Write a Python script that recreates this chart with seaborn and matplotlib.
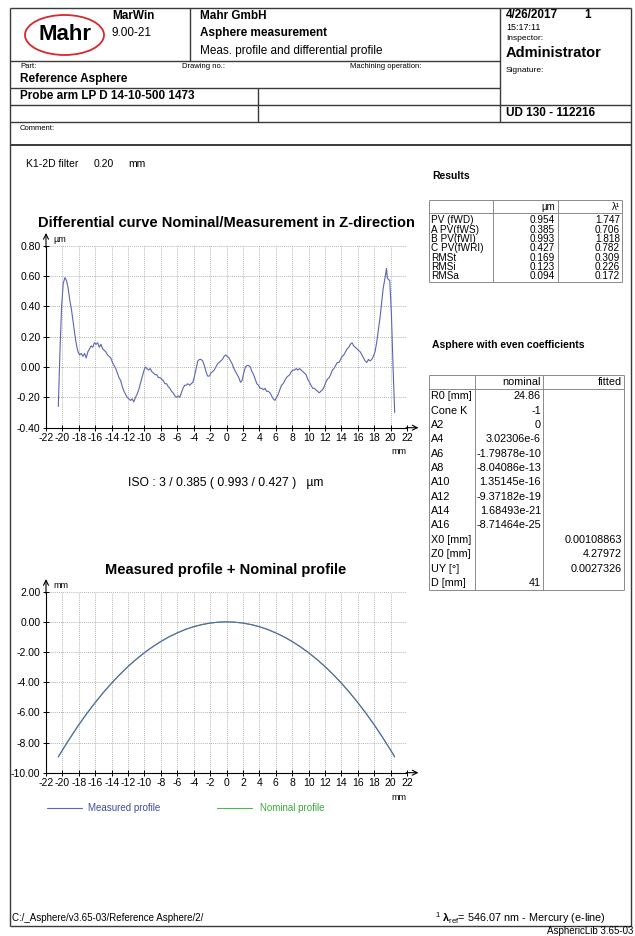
import matplotlib
matplotlib.use("Agg")
import matplotlib.pyplot as plt
import seaborn as sns
from matplotlib.patches import Ellipse

# ===============================
# DATA
# ===============================
DIFF_X = [-20.5, -20.3, -20.1, -19.9, -19.7, -19.5, -19.3, -19.1, -18.9, -18.7,
          -18.5, -18.3, -18.1, -17.9, -17.7, -17.5, -17.3, -17.1, -16.9, -16.7,
          -16.5, -16.3, -16.1, -15.9, -15.7, -15.5, -15.3, -15.1, -14.9, -14.7,
          -14.5, -14.3, -14.1, -13.9, -13.7, -13.5, -13.3, -13.1, -12.9, -12.7,
          -12.5, -12.3, -12.1, -11.9, -11.7, -11.5, -11.3, -11.1, -10.9, -10.7,
          -10.5, -10.3, -10.1, -9.9, -9.7, -9.5, -9.3, -9.1, -8.9, -8.7,
          -8.5, -8.3, -8.1, -7.9, -7.7, -7.5, -7.3, -7.1, -6.9, -6.7,
          -6.5, -6.3, -6.1, -5.9, -5.7, -5.5, -5.3, -5.1, -4.9, -4.7,
          -4.5, -4.3, -4.1, -3.9, -3.7, -3.5, -3.3, -3.1, -2.9, -2.7,
          -2.5, -2.3, -2.1, -1.9, -1.7, -1.5, -1.3, -1.1, -0.9, -0.7,
          -0.5, -0.3, -0.1, 0.1, 0.3, 0.5, 0.7, 0.9, 1.1, 1.3,
          1.5, 1.7, 1.9, 2.1, 2.3, 2.5, 2.7, 2.9, 3.1, 3.3,
          3.5, 3.7, 3.9, 4.1, 4.3, 4.5, 4.7, 4.9, 5.1, 5.3,
          5.5, 5.7, 5.9, 6.1, 6.3, 6.5, 6.7, 6.9, 7.1, 7.3,
          7.5, 7.7, 7.9, 8.1, 8.3, 8.5, 8.7, 8.9, 9.1, 9.3,
          9.5, 9.7, 9.9, 10.1, 10.3, 10.5, 10.7, 10.9, 11.1, 11.3,
          11.5, 11.7, 11.9, 12.1, 12.3, 12.5, 12.7, 12.9, 13.1, 13.3,
          13.5, 13.7, 13.9, 14.1, 14.3, 14.5, 14.7, 14.9, 15.1, 15.3,
          15.5, 15.7, 15.9, 16.1, 16.3, 16.5, 16.7, 16.9, 17.1, 17.3,
          17.5, 17.7, 17.9, 18.1, 18.3, 18.5, 18.7, 18.9, 19.1, 19.3,
          19.5, 19.6, 19.7, 19.9, 20.1, 20.3, 20.5]
DIFF_Y = [-0.26, 0.10, 0.40, 0.55, 0.59, 0.57, 0.52, 0.44, 0.38, 0.30,
          0.22, 0.15, 0.10, 0.08, 0.09, 0.07, 0.09, 0.06, 0.10, 0.12,
          0.14, 0.13, 0.16, 0.15, 0.16, 0.13, 0.15, 0.12, 0.11, 0.10,
          0.08, 0.07, 0.06, 0.03, 0.01, -0.01, -0.04, -0.07, -0.09, -0.13,
          -0.16, -0.18, -0.20, -0.21, -0.22, -0.21, -0.23, -0.20, -0.18, -0.15,
          -0.11, -0.07, -0.03, 0.00, -0.01, -0.02, -0.01, -0.03, -0.04, -0.05,
          -0.05, -0.07, -0.07, -0.08, -0.09, -0.11, -0.11, -0.13, -0.14, -0.16,
          -0.17, -0.19, -0.20, -0.19, -0.20, -0.17, -0.14, -0.12, -0.12, -0.11,
          -0.12, -0.11, -0.10, -0.06, -0.01, 0.04, 0.05, 0.05, 0.04, 0.01,
          -0.03, -0.06, -0.06, -0.04, -0.03, -0.02, 0.00, 0.02, 0.03, 0.04,
          0.05, 0.07, 0.08, 0.07, 0.06, 0.04, 0.02, -0.01, -0.03, -0.05,
          -0.07, -0.10, -0.09, -0.04, 0.00, 0.01, 0.01, 0.00, -0.03, -0.05,
          -0.08, -0.11, -0.12, -0.14, -0.14, -0.15, -0.14, -0.16, -0.16, -0.17,
          -0.19, -0.21, -0.22, -0.20, -0.18, -0.15, -0.12, -0.11, -0.09, -0.07,
          -0.06, -0.05, -0.03, -0.02, -0.02, -0.01, -0.02, -0.01, -0.02, -0.03,
          -0.04, -0.05, -0.08, -0.10, -0.12, -0.14, -0.14, -0.15, -0.16, -0.17,
          -0.16, -0.15, -0.13, -0.10, -0.08, -0.07, -0.05, -0.02, -0.01, 0.01,
          0.03, 0.03, 0.05, 0.07, 0.08, 0.10, 0.12, 0.13, 0.15, 0.16,
          0.14, 0.13, 0.12, 0.11, 0.10, 0.08, 0.06, 0.04, 0.03, 0.05,
          0.04, 0.05, 0.07, 0.10, 0.16, 0.24, 0.32, 0.42, 0.52, 0.58,
          0.65, 0.59, 0.58, 0.57, 0.35, 0.00, -0.30]

PROFILE_X = [-20.5, -20, -19, -18, -17, -16, -15, -14, -13, -12, -11, -10, -9, -8, -7, -6,
             -5, -4, -3, -2, -1, 0, 1, 2, 3, 4, 5, 6, 7, 8, 9, 10, 11, 12, 13, 14, 15,
             16, 17, 18, 19, 20, 20.5]
PROFILE_MEASURED = [-8.95, -8.50, -7.64, -6.82, -6.06, -5.35, -4.68, -4.06, -3.49, -2.96,
                    -2.48, -2.04, -1.65, -1.30, -0.99, -0.73, -0.50, -0.32, -0.18, -0.08,
                    -0.02, 0.00, -0.02, -0.08, -0.18, -0.32, -0.50, -0.73, -0.99, -1.30,
                    -1.65, -2.04, -2.48, -2.96, -3.49, -4.06, -4.68, -5.35, -6.06, -6.82,
                    -7.64, -8.50, -8.95]
PROFILE_NOMINAL = [-8.95, -8.50, -7.64, -6.82, -6.06, -5.35, -4.68, -4.06, -3.49, -2.96,
                   -2.48, -2.04, -1.65, -1.30, -0.99, -0.73, -0.50, -0.32, -0.18, -0.08,
                   -0.02, 0.00, -0.02, -0.08, -0.18, -0.32, -0.50, -0.73, -0.99, -1.30,
                   -1.65, -2.04, -2.48, -2.96, -3.49, -4.06, -4.68, -5.35, -6.06, -6.82,
                   -7.64, -8.50, -8.95]

X_TICKS = list(range(-22, 24, 2))
DIFF_Y_TICKS = [-0.40, -0.20, 0.00, 0.20, 0.40, 0.60, 0.80]
PROFILE_Y_TICKS = [-10.0, -8.0, -6.0, -4.0, -2.0, 0.0, 2.0]

RESULT_NAMES = ["PV (fWD)", "A PV(fWS)", "B PV(fWI)", "C PV(fWRI)", "RMSt", "RMSi", "RMSa"]
RESULT_UM = [0.954, 0.385, 0.993, 0.427, 0.169, 0.123, 0.094]
RESULT_LAMBDA = [1.747, 0.706, 1.818, 0.782, 0.309, 0.226, 0.172]

COEF_NAMES = ["R0 [mm]", "Cone K", "A2", "A4", "A6", "A8", "A10", "A12", "A14", "A16",
              "X0 [mm]", "Z0 [mm]", "UY [°]", "D [mm]"]
COEF_NOMINAL = ["24.86", "-1", "0", "3.02306e-6", "-1.79878e-10", "-8.04086e-13",
                "1.35145e-16", "-9.37182e-19", "1.68493e-21", "-8.71464e-25", "", "", "", "41"]
COEF_FITTED = ["", "", "", "", "", "", "", "", "", "", "0.00108863", "4.27972", "0.0027326", ""]

# ===============================
# STYLE
# ===============================
sns.set_theme(style="white")
plt.rcParams["font.family"] = ["Liberation Sans", "DejaVu Sans"]
plt.rcParams["mathtext.fontset"] = "custom"
plt.rcParams["mathtext.rm"] = "Liberation Sans"
plt.rcParams["mathtext.bf"] = "Liberation Sans:bold"

W, H = 635, 936
FRAME = "#3a3a3a"
TABLE = "#8a8a8a"
BLUE = "#5a66b4"
GREEN = "#4cb84c"

fig = plt.figure(figsize=(W / 100, H / 100), dpi=100)
bg = fig.add_axes([0, 0, 1, 1])
bg.set_xlim(0, W)
bg.set_ylim(H, 0)
bg.axis("off")


def hline(y, x0, x1, lw=1.0, color=FRAME):
    bg.plot([x0, x1], [y, y], color=color, lw=lw, solid_capstyle="butt")


def vline(x, y0, y1, lw=1.0, color=FRAME):
    bg.plot([x, x], [y0, y1], color=color, lw=lw, solid_capstyle="butt")


def txt(x, y, s, size, bold=False, ha="left", color="black"):
    bg.text(x, y, s, fontsize=size, fontweight="bold" if bold else "normal",
            ha=ha, va="center", color=color)


# ===============================
# PAGE FRAME + HEADER
# ===============================
RC = 500  # right header column
hline(8, 10, 631)
vline(10, 8, 926)
vline(631, 8, 926)
hline(926, 10, 631)
hline(61, 10, RC)
hline(87.5, 10, RC)
hline(105, 10, 631)
hline(122, 10, 631)
hline(145, 10, 631, lw=1.4)
vline(190, 8, 61)
vline(RC, 8, 122)
vline(258, 87.5, 122)

bg.add_patch(Ellipse((64.5, 35), 79, 40, fill=False, edgecolor="#d9262b", lw=1.3))
txt(64.5, 35, "Mahr", 16, bold=True, ha="center")
txt(112, 16, "MarWin", 8.5, bold=True)
txt(112, 33, "9.00-21", 8.5)
txt(200, 16, "Mahr GmbH", 8.5, bold=True)
txt(200, 33, "Asphere measurement", 8.5, bold=True)
txt(200, 51, "Meas. profile and differential profile", 8.5)
txt(506, 15, "4/26/2017", 8.5, bold=True)
txt(584, 15, "1", 8.5, bold=True)
txt(506, 28, "15:17:11", 6.5)
txt(506, 39, "Inspector:", 6)
txt(506, 53, "Administrator", 10.5, bold=True)
txt(506, 70, "Signature:", 6)
txt(20, 66.5, "Part:", 5.5)
txt(182, 66.5, "Drawing no.:", 5.5)
txt(350, 66.5, "Machining operation:", 5.5)
txt(20, 79, "Reference Asphere", 8.5, bold=True)
txt(20, 96, "Probe arm LP D 14-10-500 1473", 8.5, bold=True)
txt(506, 113, "UD 130 - 112216", 8.5, bold=True)
txt(20, 128, "Comment:", 5.5)

txt(26, 164, "K1-2D filter", 7.5)
txt(94, 164, "0.20", 7.5)
txt(128, 164, "mm", 7.5)

# ===============================
# RESULT TABLES
# ===============================
txt(432, 176, "Results", 7.5, bold=True)
t_top, t_head, t_bot = 200, 212.5, 282
t_first, t_row = 220.2, 9.33
for x in (429, 493, 558, 622):
    vline(x, t_top, t_bot, lw=0.7, color=TABLE)
for y in (t_top, t_head, t_bot):
    hline(y, 429, 622, lw=0.7, color=TABLE)
txt(555, 207, "µm", 7, ha="right")
txt(620, 207, "λ¹", 7, ha="right")
for i, name in enumerate(RESULT_NAMES):
    yc = t_first + t_row * i
    txt(431, yc, name, 7.2)
    txt(555, yc, f"{RESULT_UM[i]:.3f}", 7.2, ha="right")
    txt(620, yc, f"{RESULT_LAMBDA[i]:.3f}", 7.2, ha="right")

txt(432, 345, "Asphere with even coefficients", 7.5, bold=True)
c_top, c_head, c_row = 375, 389, 14.36
c_bot = c_head + c_row * len(COEF_NAMES)
for x in (429, 475, 543, 624):
    vline(x, c_top, c_bot, lw=0.7, color=TABLE)
for y in (c_top, c_head, c_bot):
    hline(y, 429, 624, lw=0.7, color=TABLE)
txt(541, (c_top + c_head) / 2, "nominal", 7.8, ha="right")
txt(622, (c_top + c_head) / 2, "fitted", 7.8, ha="right")
for i, name in enumerate(COEF_NAMES):
    yc = c_head + c_row * (i + 0.5)
    txt(431, yc, name, 7.8)
    txt(541, yc, COEF_NOMINAL[i], 7.8, ha="right")
    txt(622, yc, COEF_FITTED[i], 7.8, ha="right")


# ===============================
# CHARTS
# ===============================
def px_axes(x0, y0, x1, y1):
    return fig.add_axes([x0 / W, 1 - y1 / H, (x1 - x0) / W, (y1 - y0) / H])


def style_chart(ax, yticks):
    ax.set_facecolor("none")
    ax.set_xlim(-22, 22)
    ax.set_ylim(yticks[0], yticks[-1])
    ax.set_xticks(X_TICKS)
    ax.set_xticklabels([str(t) for t in X_TICKS])
    ax.set_yticks(yticks)
    ax.set_yticklabels([f"{v:.2f}" for v in yticks])
    ax.grid(True, color="#9a9a9a", linestyle=(0, (1, 1.5)), linewidth=0.6)
    for side in ("top", "right"):
        ax.spines[side].set_visible(False)
    for side in ("left", "bottom"):
        ax.spines[side].set_color("black")
        ax.spines[side].set_linewidth(0.8)
    ax.tick_params(bottom=True, left=True, direction="inout", length=5, width=0.7,
                   labelsize=7.5, pad=1.5, colors="black")
    ax.set_xlabel("")
    ax.set_ylabel("")
    y0, y1 = yticks[0], yticks[-1]
    span = y1 - y0
    arrow = dict(arrowstyle="->", color="black", lw=0.8, mutation_scale=9,
                 shrinkA=0, shrinkB=0)
    ax.annotate("", xy=(23.4, y0), xytext=(21.9, y0), arrowprops=arrow, annotation_clip=False)
    ax.annotate("", xy=(-22, y1 + span * 0.07), xytext=(-22, y1 - span * 0.01),
                arrowprops=arrow, annotation_clip=False)


ax1 = px_axes(46, 245.7, 407, 427.7)
sns.lineplot(x=DIFF_X, y=DIFF_Y, ax=ax1, color=BLUE, linewidth=0.8, sort=False, estimator=None)
style_chart(ax1, DIFF_Y_TICKS)
txt(226, 223, "Differential curve Nominal/Measurement in Z-direction", 10.5, bold=True, ha="center")
txt(53, 240, "µm", 6.5)
txt(399, 452, "mm", 6.5, ha="center")
txt(226, 483, "ISO : 3 / 0.385 ( 0.993 / 0.427 )   µm", 8.7, ha="center")

ax2 = px_axes(46, 591.7, 407, 772.7)
sns.lineplot(x=PROFILE_X, y=PROFILE_NOMINAL, ax=ax2, color=GREEN, linewidth=0.8, sort=False, estimator=None)
sns.lineplot(x=PROFILE_X, y=PROFILE_MEASURED, ax=ax2, color=BLUE, linewidth=0.8, sort=False, estimator=None)
style_chart(ax2, PROFILE_Y_TICKS)
txt(226, 570, "Measured profile + Nominal profile", 10.5, bold=True, ha="center")
txt(53, 586, "mm", 6.5)
txt(399, 797, "mm", 6.5, ha="center")

# legend row
bg.plot([47, 82], [808, 808], color=BLUE, lw=0.8)
txt(88, 808, "Measured profile", 7, color="#3b4fa0")
bg.plot([217, 252], [808, 808], color=GREEN, lw=0.8)
txt(260, 808, "Nominal profile", 7, color="#3aaa3a")

# ===============================
# FOOTER
# ===============================
txt(12, 918, "C:/_Asphere/v3.65-03/Reference Asphere/2/", 7)
txt(435, 918, r"$^{1}$ $\mathbf{\lambda}_{\mathrm{ref}}$= 546.07 nm - Mercury (e-line)", 7.8)
txt(633, 931, "AsphericLib 3.65-03", 7, ha="right")

fig.savefig("out.png", dpi=100)
